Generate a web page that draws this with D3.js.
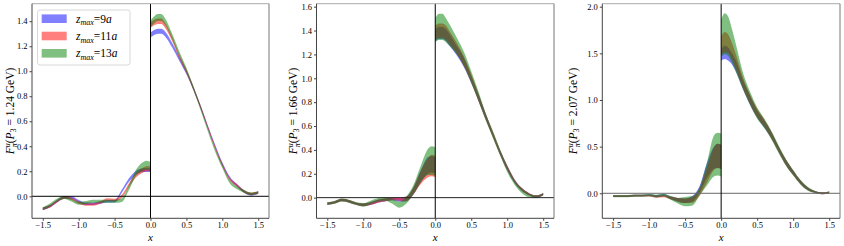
<!DOCTYPE html>
<html><head><meta charset="utf-8">
<script src="https://cdn.jsdelivr.net/npm/d3@7"></script>
<style>
body{margin:0;background:#fff}
svg{display:block}
text{font-family:'Liberation Serif','Times New Roman',serif;fill:#000}
</style>
</head><body>
<svg id="chart" width="844" height="246"></svg>
<script>
// ---------- data ----------
const xNeg = [-1.5,-1.4,-1.3,-1.2,-1.1,-1.0,-0.9,-0.8,-0.7,-0.6,-0.5,-0.4,-0.3,-0.2,-0.1,-0.05,0];
const xPos = [0,0.05,0.1,0.15,0.2,0.3,0.4,0.5,0.6,0.7,0.8,0.9,1.0,1.1,1.2,1.3,1.4,1.5];
const xTicks = [-1.5,-1.0,-0.5,0.0,0.5,1.0,1.5];
const seriesNames = ["9a","11a","13a"];
const seriesColors = ["blue","red","green"];
const momenta = ["1.24","1.66","2.07"];
const p1YTicks = [0.0,0.2,0.4,0.6,0.8,1.0,1.2,1.4];
const p2YTicks = [0.0,0.2,0.4,0.6,0.8,1.0,1.2,1.4,1.6];
const p3YTicks = [0.0,0.5,1.0,1.5,2.0];

// Panel 1 (P3 = 1.24 GeV)
const p1NegMid9  = [-0.10,-0.08,-0.04,-0.01,-0.01,-0.04,-0.06,-0.06,-0.05,-0.04,-0.04,0.04,0.13,0.19,0.21,0.21,0.21];
const p1NegErr9  = [0.010,0.010,0.010,0.010,0.010,0.010,0.010,0.010,0.010,0.010,0.010,0.012,0.014,0.015,0.015,0.015,0.015];
const p1NegMid11 = [-0.10,-0.08,-0.04,-0.01,-0.02,-0.05,-0.065,-0.065,-0.05,-0.025,-0.03,0.00,0.09,0.17,0.21,0.22,0.22];
const p1NegErr11 = [0.010,0.010,0.010,0.010,0.010,0.010,0.010,0.010,0.010,0.010,0.010,0.012,0.015,0.018,0.020,0.020,0.020];
const p1NegMid13 = [-0.10,-0.07,-0.03,-0.01,-0.03,-0.055,-0.05,-0.04,-0.04,-0.04,-0.04,-0.03,0.07,0.19,0.24,0.25,0.24];
const p1NegErr13 = [0.012,0.012,0.012,0.012,0.012,0.012,0.012,0.012,0.012,0.012,0.012,0.015,0.020,0.025,0.035,0.035,0.035];
const p1PosMid9  = [1.29,1.31,1.32,1.32,1.30,1.21,1.10,0.99,0.86,0.71,0.55,0.40,0.26,0.15,0.09,0.04,0.015,0.03];
const p1PosErr9  = [0.020,0.020,0.020,0.020,0.020,0.018,0.016,0.015,0.014,0.013,0.012,0.012,0.012,0.011,0.010,0.010,0.010,0.010];
const p1PosMid11 = [1.37,1.39,1.40,1.40,1.37,1.26,1.12,1.00,0.86,0.71,0.55,0.39,0.25,0.14,0.09,0.04,0.02,0.03];
const p1PosErr11 = [0.022,0.022,0.022,0.022,0.020,0.018,0.016,0.015,0.014,0.013,0.012,0.012,0.012,0.011,0.010,0.010,0.010,0.010];
const p1PosMid13 = [1.38,1.41,1.43,1.43,1.40,1.28,1.14,1.01,0.86,0.70,0.53,0.37,0.24,0.12,0.07,0.04,0.02,0.03];
const p1PosErr13 = [0.028,0.028,0.028,0.028,0.026,0.022,0.020,0.018,0.016,0.015,0.014,0.014,0.014,0.013,0.012,0.011,0.010,0.010];

// Panel 2 (P3 = 1.66 GeV)
const p2NegMid9  = [-0.05,-0.04,-0.02,-0.03,-0.05,-0.06,-0.05,-0.03,-0.02,-0.01,-0.02,-0.01,0.06,0.18,0.27,0.28,0.27];
const p2NegErr9  = [0.010,0.010,0.010,0.010,0.010,0.012,0.012,0.012,0.012,0.012,0.015,0.020,0.030,0.050,0.070,0.070,0.070];
const p2NegMid11 = [-0.05,-0.04,-0.02,-0.03,-0.05,-0.06,-0.05,-0.03,-0.02,-0.01,-0.01,-0.01,0.06,0.17,0.25,0.27,0.26];
const p2NegErr11 = [0.010,0.010,0.010,0.010,0.010,0.012,0.012,0.012,0.012,0.012,0.015,0.020,0.030,0.055,0.080,0.090,0.090];
const p2NegMid13 = [-0.05,-0.04,-0.02,-0.03,-0.05,-0.06,-0.04,-0.02,-0.01,-0.03,-0.06,-0.02,0.07,0.20,0.30,0.31,0.30];
const p2NegErr13 = [0.012,0.012,0.012,0.012,0.012,0.015,0.015,0.015,0.015,0.020,0.025,0.030,0.040,0.070,0.110,0.120,0.120];
const p2PosMid9  = [1.36,1.38,1.38,1.36,1.32,1.23,1.13,0.99,0.84,0.68,0.53,0.38,0.25,0.14,0.07,0.03,0.01,0.03];
const p2PosErr9  = [0.050,0.050,0.050,0.050,0.050,0.040,0.040,0.030,0.030,0.025,0.020,0.020,0.020,0.015,0.012,0.010,0.010,0.010];
const p2PosMid11 = [1.38,1.40,1.40,1.38,1.34,1.25,1.14,1.00,0.84,0.68,0.53,0.38,0.25,0.14,0.07,0.03,0.01,0.03];
const p2PosErr11 = [0.060,0.060,0.060,0.060,0.055,0.045,0.040,0.035,0.030,0.025,0.022,0.020,0.020,0.015,0.012,0.010,0.010,0.010];
const p2PosMid13 = [1.40,1.43,1.43,1.40,1.36,1.27,1.16,1.01,0.85,0.68,0.53,0.38,0.24,0.13,0.06,0.02,0.01,0.03];
const p2PosErr13 = [0.100,0.110,0.110,0.100,0.090,0.070,0.060,0.050,0.040,0.030,0.030,0.025,0.025,0.020,0.020,0.015,0.010,0.010];

// Panel 3 (P3 = 2.07 GeV)
const p3NegMid9  = [-0.03,-0.03,-0.03,-0.025,-0.025,-0.02,-0.03,-0.02,-0.05,-0.07,-0.08,-0.06,0.04,0.24,0.38,0.40,0.39];
const p3NegErr9  = [0.010,0.010,0.010,0.010,0.010,0.010,0.012,0.012,0.015,0.020,0.025,0.030,0.035,0.080,0.120,0.130,0.130];
const p3NegMid11 = [-0.03,-0.03,-0.03,-0.025,-0.025,-0.025,-0.035,-0.03,-0.05,-0.07,-0.08,-0.07,0.01,0.19,0.37,0.40,0.39];
const p3NegErr11 = [0.010,0.010,0.010,0.010,0.010,0.010,0.012,0.012,0.015,0.020,0.025,0.030,0.035,0.080,0.120,0.130,0.130];
const p3NegMid13 = [-0.03,-0.03,-0.03,-0.025,-0.025,-0.02,-0.03,-0.02,-0.05,-0.08,-0.09,-0.08,0.02,0.20,0.40,0.42,0.41];
const p3NegErr13 = [0.012,0.012,0.012,0.012,0.012,0.012,0.015,0.015,0.020,0.030,0.050,0.050,0.045,0.120,0.220,0.230,0.230];
const p3PosMid9  = [1.48,1.51,1.49,1.44,1.37,1.17,1.00,0.85,0.74,0.62,0.47,0.33,0.22,0.12,0.05,0.015,0.00,0.01];
const p3PosErr9  = [0.060,0.070,0.070,0.060,0.060,0.050,0.050,0.040,0.040,0.035,0.030,0.030,0.025,0.020,0.015,0.010,0.010,0.010];
const p3PosMid11 = [1.58,1.62,1.60,1.52,1.42,1.19,1.01,0.86,0.75,0.62,0.47,0.33,0.22,0.12,0.05,0.015,0.00,0.01];
const p3PosErr11 = [0.100,0.110,0.100,0.090,0.080,0.060,0.050,0.045,0.040,0.035,0.030,0.030,0.025,0.020,0.015,0.010,0.010,0.010];
const p3PosMid13 = [1.66,1.71,1.68,1.58,1.46,1.21,1.02,0.86,0.75,0.62,0.47,0.33,0.22,0.12,0.05,0.015,0.00,0.01];
const p3PosErr13 = [0.200,0.220,0.210,0.180,0.150,0.090,0.070,0.060,0.050,0.045,0.040,0.035,0.030,0.025,0.020,0.012,0.010,0.010];

// ---------- layout ----------
const panels = [
  {left:32, right:269, top:3.7, bottom:218.3, yDom:[-0.176,1.54], yTicks:p1YTicks, labelX:13.5, legend:true, zeroColor:"#000",
   neg:[[p1NegMid9,p1NegErr9],[p1NegMid11,p1NegErr11],[p1NegMid13,p1NegErr13]],
   pos:[[p1PosMid9,p1PosErr9],[p1PosMid11,p1PosErr11],[p1PosMid13,p1PosErr13]]},
  {left:316.5, right:554, top:3.7, bottom:218.3, yDom:[-0.173,1.625], yTicks:p2YTicks, labelX:296.5, legend:false, zeroColor:"#222",
   neg:[[p2NegMid9,p2NegErr9],[p2NegMid11,p2NegErr11],[p2NegMid13,p2NegErr13]],
   pos:[[p2PosMid9,p2PosErr9],[p2PosMid11,p2PosErr11],[p2PosMid13,p2PosErr13]]},
  {left:602.3, right:840, top:3.7, bottom:218.3, yDom:[-0.268,2.032], yTicks:p3YTicks, labelX:576.5, legend:false, zeroColor:"#666",
   neg:[[p3NegMid9,p3NegErr9],[p3NegMid11,p3NegErr11],[p3NegMid13,p3NegErr13]],
   pos:[[p3PosMid9,p3PosErr9],[p3PosMid11,p3PosErr11],[p3PosMid13,p3PosErr13]]}
];

const svg = d3.select("#chart");
const fmt = d3.format(".1f");
const serif = "'Liberation Serif','Times New Roman',serif";

panels.forEach((p, pi) => {
  const x = d3.scaleLinear().domain([-1.65,1.65]).range([p.left,p.right]);
  const y = d3.scaleLinear().domain(p.yDom).range([p.bottom,p.top]);
  const g = svg.append("g");

  const area = d3.area().curve(d3.curveMonotoneX)
    .x(d => x(d[0])).y0(d => y(d[1]-d[2])).y1(d => y(d[1]+d[2]));

  [0,1,2].forEach(si => {
    [[xNeg,p.neg[si]],[xPos,p.pos[si]]].forEach(([xs,[mid,err]]) => {
      const pts = xs.map((xv,i) => [xv, mid[i], err[i]]);
      g.append("path").attr("d", area(pts))
        .attr("fill", seriesColors[si]).attr("fill-opacity", 0.5).attr("stroke","none");
    });
  });

  // zero lines
  g.append("line").attr("x1",p.left).attr("x2",p.right).attr("y1",y(0)).attr("y2",y(0))
    .attr("stroke",p.zeroColor).attr("stroke-width",1);
  g.append("line").attr("x1",x(0)).attr("x2",x(0)).attr("y1",p.top).attr("y2",p.bottom)
    .attr("stroke","#000").attr("stroke-width",1);

  // frame
  g.append("line").attr("x1",p.left).attr("x2",p.right).attr("y1",p.top).attr("y2",p.top).attr("stroke","#aaa");
  g.append("line").attr("x1",p.right).attr("x2",p.right).attr("y1",p.top).attr("y2",p.bottom).attr("stroke","#777");
  g.append("line").attr("x1",p.left).attr("x2",p.left).attr("y1",p.top).attr("y2",p.bottom).attr("stroke","#444");
  g.append("line").attr("x1",p.left).attr("x2",p.right).attr("y1",p.bottom).attr("y2",p.bottom).attr("stroke","#444");

  // axes
  const ax = g.append("g").attr("transform",`translate(0,${p.bottom})`)
    .call(d3.axisBottom(x).tickValues(xTicks).tickFormat(fmt).tickSize(2.5).tickPadding(1.5));
  const ay = g.append("g").attr("transform",`translate(${p.left},0)`)
    .call(d3.axisLeft(y).tickValues(p.yTicks).tickFormat(fmt).tickSize(2.5).tickPadding(2));
  [ax,ay].forEach(a => {
    a.attr("font-family", serif).attr("font-size", 8.5);
    a.select(".domain").remove();
    a.selectAll(".tick line").attr("stroke","#444");
    a.selectAll(".tick text").attr("font-family", serif).attr("font-size","8.5px").attr("fill","#000");
  });

  // x label
  g.append("text").attr("x", x(0)).attr("y", 241).attr("text-anchor","middle")
    .attr("font-size","11px").attr("font-style","italic").text("x");

  // y label
  const cy = (p.top+p.bottom)/2;
  const t = g.append("text").attr("transform",`translate(${p.labelX},${cy}) rotate(-90)`)
    .attr("text-anchor","middle").attr("font-size","11.5px");
  t.append("tspan").attr("font-style","italic").text("F");
  t.append("tspan").attr("font-style","italic").attr("font-size","8px").attr("dy",-4).text("u");
  t.append("tspan").attr("font-style","italic").attr("font-size","8px").attr("dx",-4).attr("dy",7).text("π");
  t.append("tspan").attr("dy",-3).text("(");
  t.append("tspan").attr("font-style","italic").text("P");
  t.append("tspan").attr("font-size","8px").attr("dy",2.5).text("3");
  t.append("tspan").attr("dy",-2.5).text(" = " + momenta[pi] + " GeV)");

  // legend
  if (p.legend) {
    const lg = g.append("g");
    lg.append("rect").attr("x",37.5).attr("y",10).attr("width",92.5).attr("height",55).attr("rx",2.5)
      .attr("fill","#fff").attr("fill-opacity",0.8).attr("stroke","#d8d8d8");
    seriesNames.forEach((nm, i) => {
      const ry = 18.7 + i*17.3;
      lg.append("rect").attr("x",41.7).attr("y",ry-4.3).attr("width",25).attr("height",8.6)
        .attr("fill",seriesColors[i]).attr("fill-opacity",0.5);
      const tt = lg.append("text").attr("x",76).attr("y",ry+4).attr("font-size","11.5px");
      tt.append("tspan").attr("font-style","italic").text("z");
      tt.append("tspan").attr("font-style","italic").attr("font-size","8px").attr("dy",2.5).text("max");
      tt.append("tspan").attr("dy",-2.5).text("=" + nm.replace("a",""));
      tt.append("tspan").attr("font-style","italic").text("a");
    });
  }
});
</script>
</body></html>
